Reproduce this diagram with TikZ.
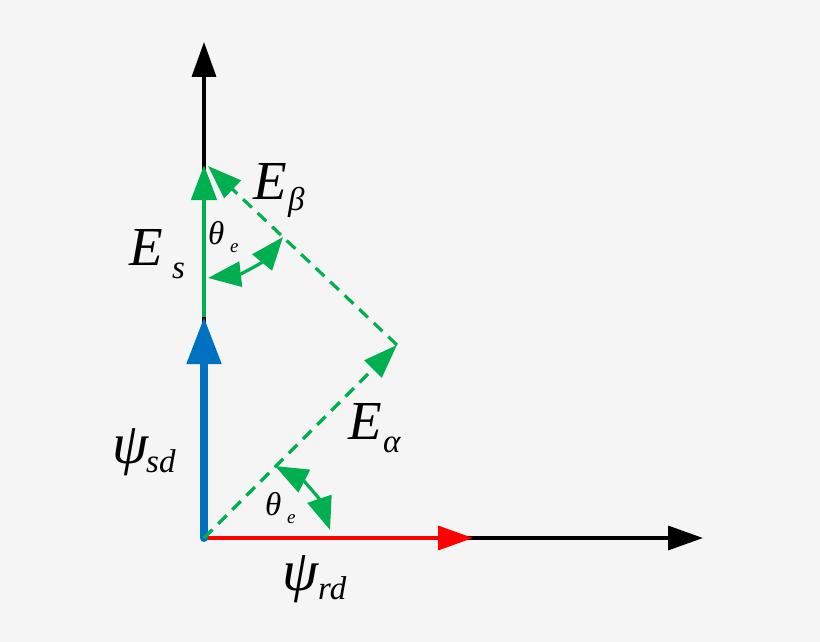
\documentclass[tikz,border=0pt]{standalone}
\usepackage{fontspec}
\setmainfont{Liberation Serif}
\usetikzlibrary{arrows.meta}
\definecolor{bg}{HTML}{F5F5F5}
\definecolor{vgreen}{HTML}{00B050}
\definecolor{vblue}{HTML}{0070C0}
\definecolor{vred}{HTML}{FF0000}
\begin{document}
\begin{tikzpicture}[x=1pt,y=-1pt,
  axisline/.style={line width=3.5pt,-{Triangle[length=35pt,width=24pt]}},
  bigl/.style={inner sep=0pt,anchor=base west,font=\fontsize{55pt}{60pt}\selectfont\itshape},
  psil/.style={inner sep=0pt,anchor=base west,font=\fontsize{58pt}{64pt}\selectfont\itshape},
  subl/.style={inner sep=0pt,anchor=base west,font=\fontsize{33pt}{38pt}\selectfont\itshape},
  thl/.style={inner sep=0pt,anchor=base west,font=\fontsize{33pt}{38pt}\selectfont\itshape},
  tinyl/.style={inner sep=0pt,anchor=base west,font=\fontsize{19pt}{22pt}\selectfont\itshape},
  dashline/.style={vgreen,line width=3.2pt,dash pattern=on 12pt off 8pt,-{Triangle[length=34pt,width=24pt]}},
  anglearc/.style={vgreen,line width=3.2pt,{Triangle[length=33pt,width=25pt]}-{Triangle[length=33pt,width=25pt]}}
]
\fill[bg] (0,0) rectangle (820,642);
\useasboundingbox (0,0) rectangle (820,642);
% points
\coordinate (O) at (204,538);
\coordinate (Ytop) at (204,42);
\coordinate (Xend) at (703,538);
\coordinate (Bt) at (204,317);
\coordinate (Gt) at (204,165);
\coordinate (Rt) at (473,538);
\coordinate (C) at (397,345);
\coordinate (D) at (208,166);
\coordinate (A1) at (275,466);
\coordinate (B1) at (330,530);
\coordinate (A2) at (208,278);
\coordinate (B2) at (283,237);
% axes
\draw[axisline] (O) -- (Ytop);
\draw[axisline] (O) -- (Xend);
% vectors
\draw[vred,line width=3.5pt,-{Triangle[length=35pt,width=24pt]}] (O) -- (Rt);
\draw[vgreen,line width=4.5pt,-{Triangle[length=35pt,width=25pt]}] (Bt) -- (Gt);
\draw[vblue,line width=8pt,line cap=round,-{Triangle[length=47pt,width=33pt]}] (O) -- (Bt);
\draw[dashline] (O) -- (C);
\draw[dashline] (C) -- (D);
% angle arcs
\draw[anglearc] (A1) to[bend left=22] (B1);
\draw[anglearc] (A2) to[bend right=22] (B2);
% labels
\node[bigl] (Es) at (129,265) {E};
\node[subl] (Ess) at (172,278) {s};
\node[bigl] (Eb) at (253,199) {E};
\node[subl] (Ebs) at (288,210) {β};
\node[bigl] (Ea) at (348,439) {E};
\node[subl] (Eas) at (383,452) {α};
\node[psil] (Ps) at (112,463) {ψ};
\node[subl] (Pss) at (146,472) {sd};
\node[psil] (Pr) at (282,590) {ψ};
\node[subl] (Prs) at (318,599) {rd};
\node[thl] (T1) at (208,244) {θ};
\node[tinyl] (T1s) at (230,252) {e};
\node[thl] (T2) at (265,515) {θ};
\node[tinyl] (T2s) at (287,523) {e};
\end{tikzpicture}
\end{document}
